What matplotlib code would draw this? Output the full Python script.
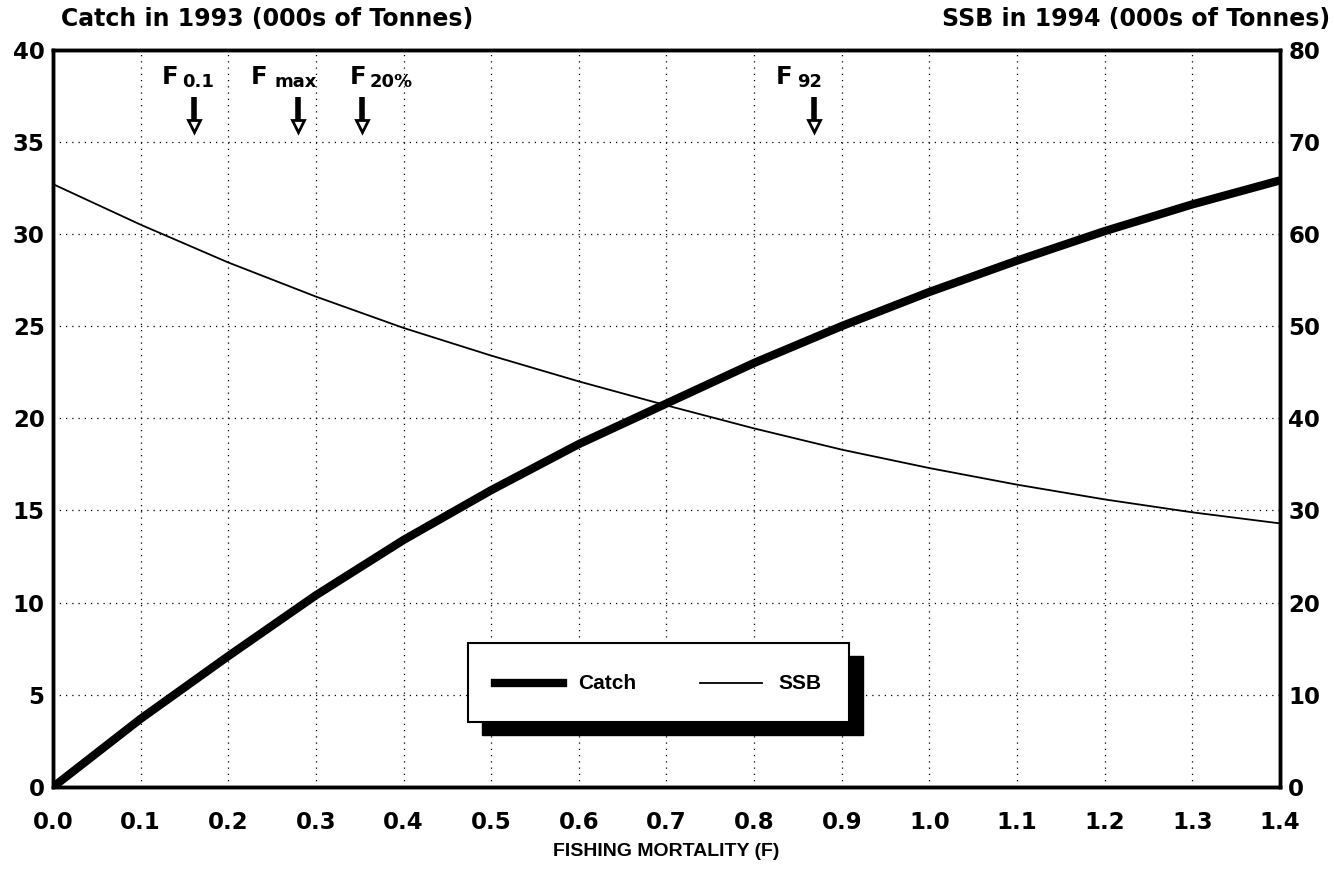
import numpy as np
import matplotlib.pyplot as plt
from matplotlib.patches import Rectangle

plt.rcParams['font.family'] = ['DejaVu Sans']
plt.rcParams['font.weight'] = 'bold'

# 数据
f_values = [0.0, 0.1, 0.2, 0.3, 0.4, 0.5, 0.6, 0.7, 0.8, 0.9, 1.0, 1.1, 1.2, 1.3, 1.4]
catch = [0.0, 3.7, 7.1, 10.4, 13.4, 16.1, 18.6, 20.8, 23.0, 25.0, 26.85, 28.55, 30.15, 31.6, 32.9]
ssb = [65.4, 61.0, 56.9, 53.2, 49.8, 46.8, 44.0, 41.4, 38.9, 36.6, 34.6, 32.8, 31.2, 29.8, 28.6]

# 参考点
ref_main = ["F", "F", "F", "F"]
ref_sub = ["0.1", "max", "20%", "92"]
ref_f = [0.161, 0.28, 0.353, 0.868]
label_x = [0.124, 0.226, 0.339, 0.825]
sub_gap = [15, 17, 14, 15]

fig = plt.figure(figsize=(13.35, 8.86), dpi=100)
ax = fig.add_axes([0.0397, 0.1117, 0.919, 0.8324])
ax2 = ax.twinx()

ax.plot(f_values, catch, color="black", linewidth=6, solid_capstyle="butt", zorder=3)
ax2.plot(f_values, ssb, color="black", linewidth=1.3)

ax.set_xlim(0, 1.4)
ax.set_ylim(0, 40)
ax2.set_ylim(0, 80)
ticks = np.arange(0, 1.41, 0.1)
ax.set_xticks(ticks)
ax.set_xticklabels([f"{v:.1f}" for v in ticks])
ax.set_yticks(range(0, 41, 5))
ax2.set_yticks(range(0, 81, 10))

for a in (ax, ax2):
    a.tick_params(length=0, labelsize=16.5, pad=6)
    for s in a.spines.values():
        s.set_linewidth(2.5)
ax.tick_params(axis="x", pad=17)

ax.grid(True, color="black", linestyle=(0, (1, 4)), linewidth=0.9)

# 箭头和标注
for m, sub, f, tx, g in zip(ref_main, ref_sub, ref_f, label_x, sub_gap):
    ax.text(tx, 38.15, m, ha="left", va="baseline", fontsize=17.5, fontweight="bold")
    ax.annotate(sub, xy=(tx, 38.15), xytext=(g, -2.5), textcoords="offset points",
                ha="left", va="baseline", fontsize=13, fontweight="bold")
    ax.plot([f, f], [36.0, 37.4], color="black", linewidth=4, solid_capstyle="butt")
    ax.plot(f, 35.85, marker="v", markersize=8, mfc="white", mec="black", mew=2)

# 坐标轴标题
fig.text(0.046, 0.979, "Catch in 1993 (000s of Tonnes)", fontsize=17, fontweight="bold",
         va="center")
fig.text(0.996, 0.979, "SSB in 1994 (000s of Tonnes)", fontsize=17, fontweight="bold",
         va="center", ha="right")
ax.set_xlabel("FISHING MORTALITY (F)", fontsize=14, fontweight="bold", labelpad=7,
              family="Liberation Sans")

# 图例（带阴影）
lx, ly, lw, lh = 0.338, 0.088, 0.311, 0.107
ax.add_patch(Rectangle((lx + 0.0114, ly - 0.0176), lw, lh, transform=ax.transAxes,
                       facecolor="black", edgecolor="black", zorder=5))
ax.add_patch(Rectangle((lx, ly), lw, lh, transform=ax.transAxes,
                       facecolor="white", edgecolor="black", linewidth=1.5, zorder=6))
ax.plot([lx + 0.022, lx + 0.078], [ly + 0.053, ly + 0.053], transform=ax.transAxes,
        color="black", linewidth=6, zorder=7)
ax.text(lx + 0.09, ly + 0.053, "Catch", transform=ax.transAxes, fontsize=15,
        fontweight="bold", va="center", zorder=7, family="Liberation Sans")
ax.plot([lx + 0.189, lx + 0.24], [ly + 0.053, ly + 0.053], transform=ax.transAxes,
        color="black", linewidth=1.3, zorder=7)
ax.text(lx + 0.253, ly + 0.053, "SSB", transform=ax.transAxes, fontsize=15,
        fontweight="bold", va="center", zorder=7, family="Liberation Sans")

fig.savefig("out.png", dpi=100)
